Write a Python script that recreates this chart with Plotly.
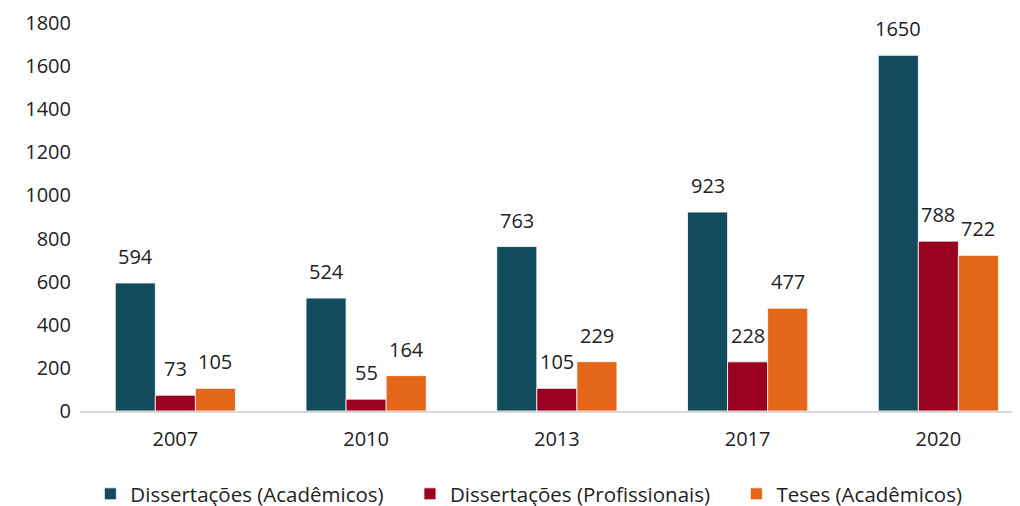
import plotly.graph_objects as go

years = ["2007", "2010", "2013", "2017", "2020"]
diss_acad = [594, 524, 763, 923, 1650]
diss_prof = [73, 55, 105, 228, 788]
teses_acad = [105, 164, 229, 477, 722]
series_names = ["Dissertações (Acadêmicos)", "Dissertações (Profissionais)", "Teses (Acadêmicos)"]
colors = ["#124C5C", "#9A0020", "#E36619"]

font_family = "Open Sans, Noto Sans, sans-serif"
pad = "\u00a0" * 4
fig = go.Figure()
all_series = [diss_acad, diss_prof, teses_acad]
for k, (name, vals, col) in enumerate(zip(series_names, all_series, colors)):
    fig.add_trace(go.Bar(
        x=years, y=vals, name=name + (pad if k < 2 else ""),
        marker=dict(color=col, line=dict(color="white", width=0.8)),
    ))

shifts = [-40, 0, 40]
for vals, sh in zip(all_series, shifts):
    for i, v in enumerate(vals):
        fig.add_annotation(x=i, y=v, text=str(v), showarrow=False,
                           xshift=sh, yanchor="bottom", yshift=11,
                           font=dict(size=20, color="#222222", family=font_family))

# page body has an 8px margin, so figure is offset to compensate
fig.update_layout(
    width=1012, height=506,
    margin=dict(l=72, r=0, t=15, b=103),
    paper_bgcolor="white", plot_bgcolor="white",
    barmode="group", bargap=0.37, bargroupgap=0,
    font=dict(family=font_family, size=20, color="#222222"),
    showlegend=True,
    legend=dict(orientation="h", x=0.011, xanchor="left", y=-0.163, yanchor="top",
                font=dict(size=20.5, color="#222222"), itemwidth=30,
                traceorder="normal"),
)
fig.update_xaxes(type="category", range=[-0.5, 4.428], showgrid=False, showline=True,
                 linecolor="#D9D9D9", linewidth=2, ticks="", tickfont=dict(size=20),
                 ticklabelstandoff=9, fixedrange=True)
fig.update_yaxes(range=[0, 1800], dtick=200, showgrid=False, zeroline=False,
                 showline=False, ticks="", ticklabelstandoff=8, tickfont=dict(size=20))

fig.write_html("out.html")
